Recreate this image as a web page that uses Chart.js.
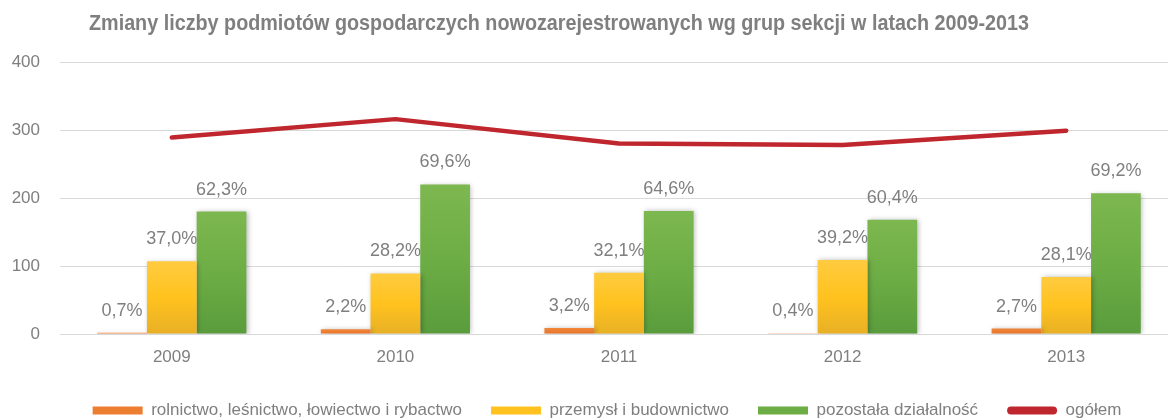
<!DOCTYPE html>
<html>
<head>
<meta charset="utf-8">
<script src="https://cdn.jsdelivr.net/npm/chart.js@4.4.1/dist/chart.umd.min.js"></script>
<style>
  html, body { margin: 0; padding: 0; background: #ffffff; overflow: hidden; }
  #wrap { width: 1168px; height: 418px; overflow: hidden; position: relative; }
  canvas { display: block; }
</style>
</head>
<body>
<div id="wrap"><canvas id="c" width="1178" height="429" style="width:1178px;height:429px"></canvas></div>
<script>
// Liczba nowo zarejestrowanych podmiotów wg grup sekcji
const years = ['2009', '2010', '2011', '2012', '2013'];
const rolnictwo = [2, 7, 9, 1, 8];
const przemysl = [107, 89, 90, 109, 84];
const pozostala = [180, 220, 181, 168, 207];
const ogolem = [289, 316, 280, 278, 299];

// Udział procentowy grupy w ogółem (etykiety nad słupkami)
const rolnictwoPct = ['0,7%', '2,2%', '3,2%', '0,4%', '2,7%'];
const przemyslPct = ['37,0%', '28,2%', '32,1%', '39,2%', '28,1%'];
const pozostalaPct = ['62,3%', '69,6%', '64,6%', '60,4%', '69,2%'];

const seriesNames = [
  'rolnictwo, leśnictwo, łowiectwo i rybactwo',
  'przemysł i budownictwo',
  'pozostała działalność',
  'ogółem'
];
const yMin = 0, yMax = 400, yStep = 100;
const TITLE = 'Zmiany liczby podmiotów gospodarczych nowozarejestrowanych wg grup sekcji w latach 2009-2013';

const FONT = "'Liberation Sans', Arial, sans-serif";
const GREY = '#7f7f7f';

const COLORS = {
  orange: ['#F0873B', '#ED7D31', '#E3742A'],
  yellow: ['#FFCB40', '#FFC21E', '#E8B026'],
  green:  ['#7DB74F', '#6DAD45', '#5A9C3C'],
  red: '#C0262D'
};

// Pionowy gradient dla każdego słupka osobno
function barGradient(stops) {
  return function (ctx) {
    const chart = ctx.chart;
    if (!chart.chartArea || ctx.type !== 'data' || !ctx.parsed) return stops[1];
    const y = chart.scales.y;
    const top = y.getPixelForValue(ctx.parsed.y);
    const base = y.getPixelForValue(0);
    if (!isFinite(top) || !isFinite(base) || Math.abs(base - top) < 1) return stops[1];
    const g = chart.ctx.createLinearGradient(0, top, 0, base);
    g.addColorStop(0, stops[0]);
    g.addColorStop(0.5, stops[1]);
    g.addColorStop(1, stops[2]);
    return g;
  };
}

// Cień pod słupkami
const barShadow = {
  id: 'barShadow',
  beforeDatasetDraw(chart, args) {
    if (chart.data.datasets[args.index].type !== 'bar') return;
    const c = chart.ctx;
    c.save();
    c.shadowColor = 'rgba(0,0,0,0.28)';
    c.shadowBlur = 5;
    c.shadowOffsetX = 1.5;
    c.shadowOffsetY = 0.5;
  },
  afterDatasetDraw(chart, args) {
    if (chart.data.datasets[args.index].type !== 'bar') return;
    chart.ctx.restore();
  }
};

// Etykiety procentowe nad słupkami
const pctLabels = [rolnictwoPct, przemyslPct, pozostalaPct];
const barLabels = {
  id: 'barLabels',
  afterDatasetsDraw(chart) {
    const c = chart.ctx;
    c.save();
    c.font = '18px ' + FONT;
    c.fillStyle = GREY;
    c.textAlign = 'center';
    c.textBaseline = 'alphabetic';
    pctLabels.forEach((labels, i) => {
      const meta = chart.getDatasetMeta(i);
      meta.data.forEach((bar, j) => {
        c.fillText(labels[j], bar.x, bar.y - 17);
      });
    });
    c.restore();
  }
};

// Tytuł wykresu (zwężony krój)
const heading = {
  id: 'heading',
  afterDraw(chart) {
    const c = chart.ctx;
    const cx = 559, targetWidth = 940;
    c.save();
    c.font = 'bold 22px ' + FONT;
    c.fillStyle = GREY;
    c.textAlign = 'center';
    c.textBaseline = 'alphabetic';
    const sx = Math.min(1, targetWidth / c.measureText(TITLE).width);
    c.translate(cx, 30);
    c.scale(sx, 1);
    c.fillText(TITLE, 0, 0);
    c.restore();
  }
};

// Przesunięcie legendy w prawo względem środka płótna
const legendShift = {
  id: 'legendShift',
  afterLayout(chart) {
    const lg = chart.legend;
    if (lg) { lg.left += 18; lg.right += 18; }
  }
};

const legendColors = [COLORS.orange[1], COLORS.yellow[1], COLORS.green[1], COLORS.red];

new Chart(document.getElementById('c'), {
  data: {
    labels: years,
    datasets: [
      { type: 'bar', label: seriesNames[0], data: rolnictwo, backgroundColor: barGradient(COLORS.orange), borderWidth: 0 },
      { type: 'bar', label: seriesNames[1], data: przemysl, backgroundColor: barGradient(COLORS.yellow), borderWidth: 0 },
      { type: 'bar', label: seriesNames[2], data: pozostala, backgroundColor: barGradient(COLORS.green), borderWidth: 0 },
      {
        type: 'line', label: seriesNames[3], data: ogolem,
        borderColor: COLORS.red, backgroundColor: COLORS.red,
        borderWidth: 4.5, pointRadius: 0, pointHoverRadius: 0, tension: 0,
        borderCapStyle: 'round', borderJoinStyle: 'round', fill: false
      }
    ]
  },
  options: {
    responsive: false,
    animation: false,
    devicePixelRatio: 1,
    layout: { padding: { left: 0, top: 62, right: 0, bottom: 0 } },
    datasets: { bar: { barPercentage: 1, categoryPercentage: 0.667 } },
    scales: {
      x: {
        grid: { display: false, drawTicks: false },
        border: { display: false },
        ticks: { color: GREY, font: { family: FONT, size: 17 }, padding: 13 },
        afterFit(scale) { scale.height = 39; }
      },
      y: {
        min: yMin, max: yMax,
        grid: { color: '#d9d9d9', lineWidth: 1, drawTicks: false },
        border: { display: false },
        ticks: { stepSize: yStep, color: GREY, font: { family: FONT, size: 17 }, padding: 20 },
        afterFit(scale) { scale.width = 60; }
      }
    },
    plugins: {
      title: { display: false },
      tooltip: { enabled: false },
      legend: {
        position: 'bottom',
        labels: {
          boxWidth: 50, boxHeight: 8, padding: 29,
          color: GREY,
          font: { family: FONT, size: 17 },
          useBorderRadius: true,
          generateLabels(chart) {
            return chart.data.datasets.map((ds, i) => ({
              text: ds.label,
              fillStyle: legendColors[i],
              strokeStyle: legendColors[i],
              lineWidth: 0,
              borderRadius: ds.type === 'line' ? 4 : 0,
              hidden: false,
              datasetIndex: i,
              fontColor: GREY
            }));
          }
        }
      }
    }
  },
  plugins: [barShadow, barLabels, heading, legendShift]
});
</script>
</body>
</html>
